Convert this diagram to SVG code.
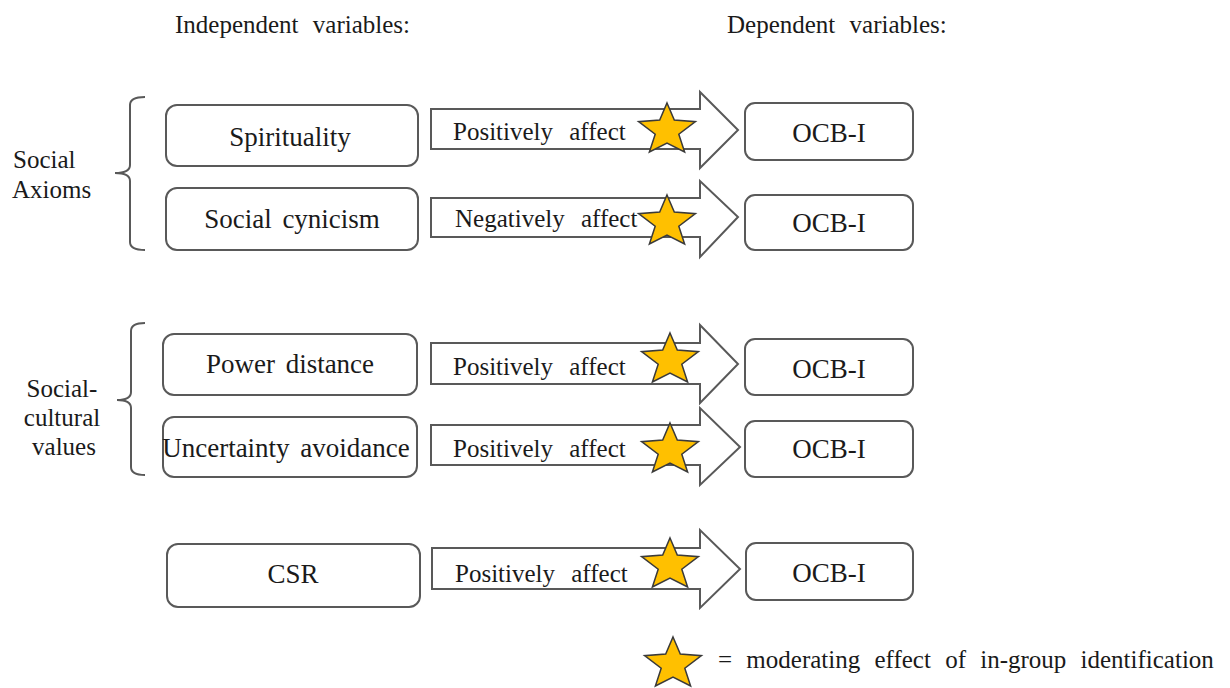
<svg xmlns="http://www.w3.org/2000/svg" width="1230" height="688" viewBox="0 0 1230 688">
  <style>
    text { font-family: 'Liberation Serif', 'DejaVu Serif', serif; fill: #1a1a1a; }
    .hdr { font-size: 25px; word-spacing: 8px; }
    .grp { font-size: 25px; }
    .lbl { font-size: 27px; text-anchor: middle; word-spacing: 4px; }
    .ocb { font-size: 27px; text-anchor: middle; }
    .arr { font-size: 25px; word-spacing: 10px; }
    .box { fill: #ffffff; stroke: #595959; stroke-width: 2; }
    .arrow { fill: #ffffff; stroke: #595959; stroke-width: 2; stroke-linejoin: miter; }
    .brace { fill: none; stroke: #595959; stroke-width: 2; }
    .star { fill: #FFC000; stroke: #3a3a3a; stroke-width: 1.5; stroke-linejoin: miter; }
    .leg { font-size: 25px; word-spacing: 8px; }
  </style>
  <defs>
    <polygon id="star" points="0,-27 7.3,-10 28.4,-8.3 11.8,4.2 17.6,22 0,13 -17.6,22 -11.8,4.2 -28.4,-8.3 -7.3,-10"/>
  </defs>

  <g id="headers">
    <text class="hdr" x="175" y="33" font-family="Liberation Serif, serif">Independent variables:</text>
    <text class="hdr" x="727" y="33" font-family="Liberation Serif, serif">Dependent variables:</text>
  </g>

  <g id="group-social-axioms">
    <text class="grp" x="13" y="168">Social</text>
    <text class="grp" x="12" y="198">Axioms</text>
    <path class="brace" d="M145,97 Q130,97 130,105 L130,165 Q130,173 115,173 Q130,173 130,181 L130,242 Q130,250 145,250"/>
  </g>

  <g id="group-social-cultural">
    <text class="grp" x="62" y="397" text-anchor="middle">Social-</text>
    <text class="grp" x="62" y="426" text-anchor="middle">cultural</text>
    <text class="grp" x="64" y="455" text-anchor="middle">values</text>
    <path class="brace" d="M145,323 Q131,323 131,331 L131,392 Q131,400 117,400 Q131,400 131,408 L131,467 Q131,475 145,475"/>
  </g>

  <g id="node-spirituality">
    <rect class="box" x="166" y="105" width="252" height="61" rx="11"/>
    <text class="lbl" x="290" y="146">Spirituality</text>
  </g>
  <g id="node-social-cynicism">
    <rect class="box" x="166" y="188" width="252" height="62" rx="11"/>
    <text class="lbl" x="292" y="228">Social cynicism</text>
  </g>
  <g id="node-power-distance">
    <rect class="box" x="163" y="334" width="254" height="61" rx="11"/>
    <text class="lbl" x="290" y="373">Power distance</text>
  </g>
  <g id="node-uncertainty-avoidance">
    <rect class="box" x="163" y="417" width="254" height="60" rx="11"/>
    <text class="lbl" x="286" y="457">Uncertainty avoidance</text>
  </g>
  <g id="node-csr">
    <rect class="box" x="167" y="544" width="253" height="63" rx="11"/>
    <text class="lbl" x="293" y="583">CSR</text>
  </g>

  <g id="node-ocb-1">
    <rect class="box" x="745" y="103" width="168" height="57" rx="10"/>
    <text class="ocb" x="829" y="142">OCB-I</text>
  </g>
  <g id="node-ocb-2">
    <rect class="box" x="745" y="195" width="168" height="55" rx="10"/>
    <text class="ocb" x="829" y="232">OCB-I</text>
  </g>
  <g id="node-ocb-3">
    <rect class="box" x="745" y="339" width="168" height="56" rx="10"/>
    <text class="ocb" x="829" y="378">OCB-I</text>
  </g>
  <g id="node-ocb-4">
    <rect class="box" x="745" y="421" width="168" height="56" rx="10"/>
    <text class="ocb" x="829" y="458">OCB-I</text>
  </g>
  <g id="node-ocb-5">
    <rect class="box" x="746" y="543" width="167" height="57" rx="10"/>
    <text class="ocb" x="829" y="582">OCB-I</text>
  </g>

  <g id="connectors">
    <g id="arrow-1">
      <polygon class="arrow" points="431,109 700,109 700,92 738,130 700,168 700,149 431,149"/>
      <text class="arr" x="453" y="140">Positively affect</text>
      <use href="#star" class="star" transform="translate(667,130)"/>
    </g>
    <g id="arrow-2">
      <polygon class="arrow" points="431,198 700,198 700,181 738,217 700,257 700,237 431,237"/>
      <text class="arr" x="455" y="227">Negatively affect</text>
      <use href="#star" class="star" transform="translate(667,222)"/>
    </g>
    <g id="arrow-3">
      <polygon class="arrow" points="431,343 700,343 700,325 738,364 700,403 700,384 431,384"/>
      <text class="arr" x="453" y="375">Positively affect</text>
      <use href="#star" class="star" transform="translate(670,360)"/>
    </g>
    <g id="arrow-4">
      <polygon class="arrow" points="431,425 700,425 700,408 740,447 700,485 700,465 431,465"/>
      <text class="arr" x="453" y="457">Positively affect</text>
      <use href="#star" class="star" transform="translate(670,450)"/>
    </g>
    <g id="arrow-5">
      <polygon class="arrow" points="432,548 700,548 700,530 740,569 700,608 700,589 432,589"/>
      <text class="arr" x="455" y="582">Positively affect</text>
      <use href="#star" class="star" transform="translate(670,565)"/>
    </g>
  </g>

  <g id="legend">
    <use href="#star" class="star" transform="translate(673,664)"/>
    <text class="leg" x="718" y="668">= moderating effect of in-group identification</text>
  </g>
</svg>
